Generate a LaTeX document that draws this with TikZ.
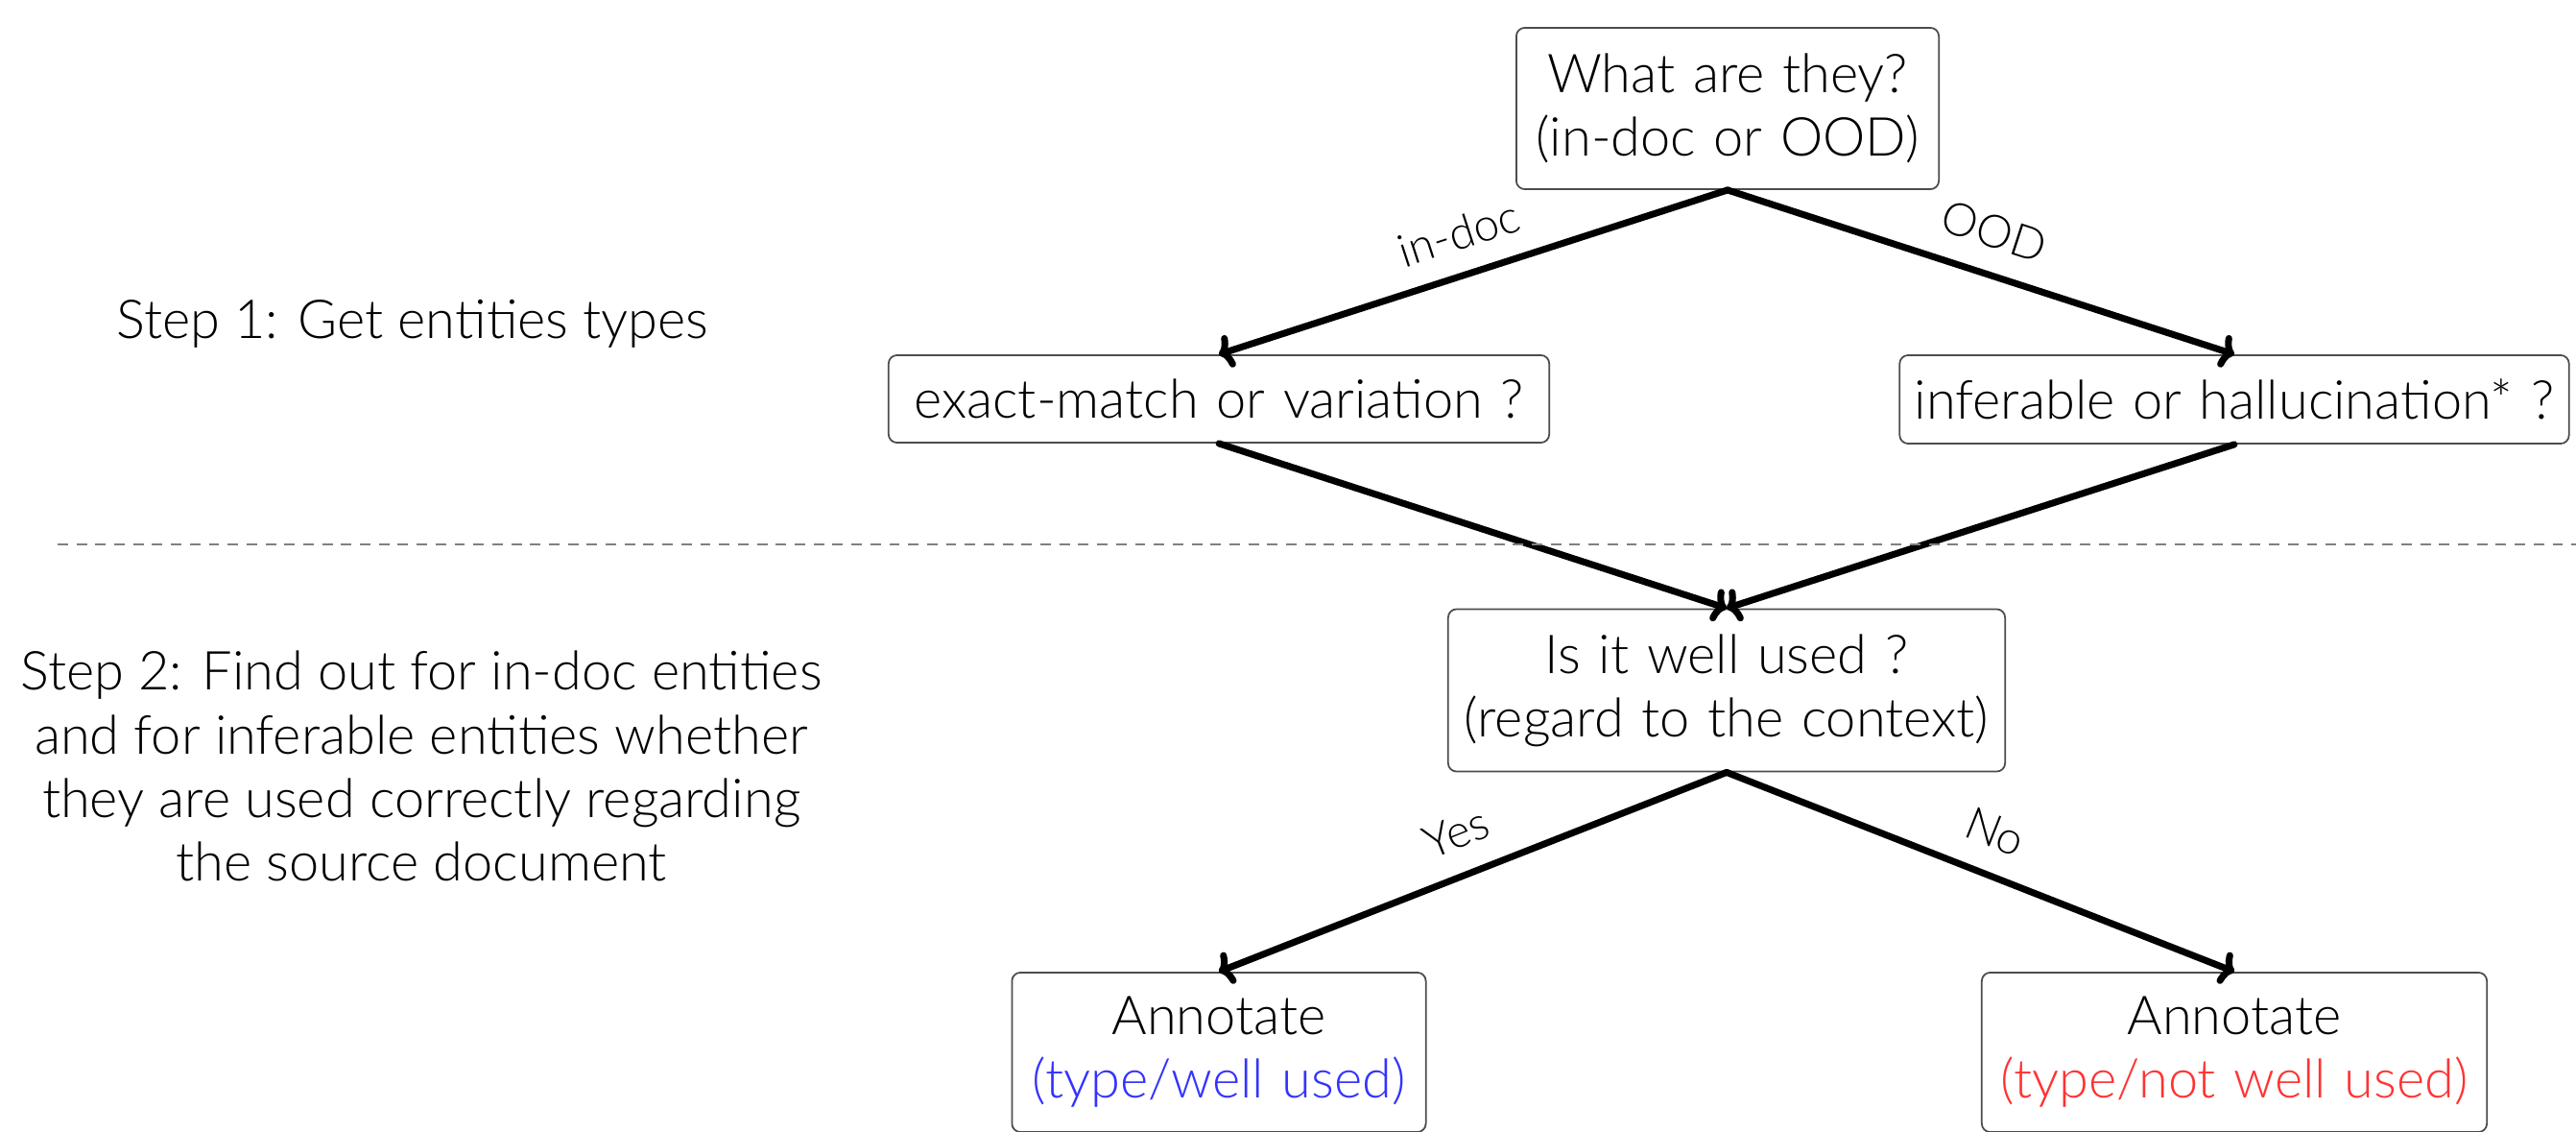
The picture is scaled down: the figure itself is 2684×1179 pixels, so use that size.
\documentclass[tikz,border=0pt]{standalone}
\usepackage{fontspec}
\setmainfont{Lato Light}
\usetikzlibrary{arrows.meta}
\definecolor{tblue}{RGB}{51,51,255}
\definecolor{tred}{RGB}{255,51,51}
\begin{document}
\begin{tikzpicture}[x=0.01cm,y=-0.01cm,
  box/.style={draw=black!70, line width=0.5pt, rounded corners=2.5pt, align=center,
    font=\fontsize{15.9}{18.8}\selectfont, inner sep=0pt},
  flow/.style={line width=2pt, -{To[length=4pt,width=10pt]}, line cap=round},
  lbl/.style={font=\fontsize{13.5}{16}\selectfont, inner sep=0pt},
  steptext/.style={align=center, font=\fontsize{15.9}{18.8}\selectfont, inner sep=0pt}]
\useasboundingbox (0,0) rectangle (2684,1179);
\node[box, text width=4.4cm, minimum height=1.68cm] (top) at (1800,113) {What are they?\\(in-doc or OOD)};
\node[box, text width=6.88cm, minimum height=0.91cm] (left) at (1270,415.5) {exact-match or variation ?};
\node[box, text width=6.97cm, minimum height=0.92cm] (right) at (2328,416) {inferable or hallucination* ?};
\node[box, text width=5.8cm, minimum height=1.69cm] (mid) at (1799,719) {Is it well used ?\\(regard to the context)};
\node[box, text width=4.31cm, minimum height=1.66cm] (bl) at (1270,1096) {Annotate\\\textcolor{tblue}{(type/well used)}};
\node[box, text width=5.26cm, minimum height=1.66cm] (br) at (2328,1096) {Annotate\\\textcolor{tred}{(type/not well used)}};

\draw[flow] (top.south) -- (left.north);
\draw[flow] (top.south) -- (right.north);
\draw[flow] (left.south) -- (mid.north);
\draw[flow] (right.south) -- (mid.north);
\draw[flow] (mid.south) -- (bl.north);
\draw[flow] (mid.south) -- (br.north);

\node[lbl, rotate=18] (lindoc) at (1520,243) {in-doc};
\node[lbl, rotate=-18] (lood) at (2078,241) {OOD};
\node[lbl, rotate=21.7] (lyes) at (1517,867) {Yes};
\node[lbl, rotate=-21.7] (lno) at (2079,866) {No};

\draw[black!50, line width=0.6pt, dash pattern=on 3.1pt off 2.5pt] (60,567) coordinate (dl) -- (2684,567) coordinate (dr);

\node[steptext] (s1) at (430,337) {Step 1: Get entities types};
\node[steptext] (s2) at (439,798) {Step 2: Find out for in-doc entities\\and for inferable entities whether\\they are used correctly regarding\\the source document};
\end{tikzpicture}
\end{document}
